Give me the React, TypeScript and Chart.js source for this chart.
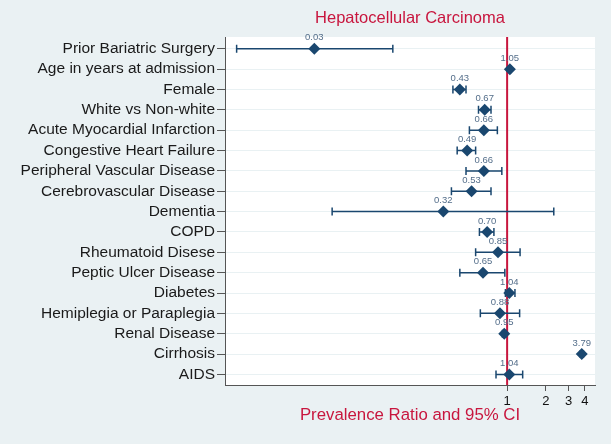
import { useEffect, useRef } from "react";
import { Chart, registerables } from "chart.js";

Chart.register(...registerables);

const categories = [
  "Prior Bariatric Surgery",
  "Age in years at admission",
  "Female",
  "White vs Non-white",
  "Acute Myocardial Infarction",
  "Congestive Heart Failure",
  "Peripheral Vascular Disease",
  "Cerebrovascular Disease",
  "Dementia",
  "COPD",
  "Rheumatoid Disese",
  "Peptic Ulcer Disease",
  "Diabetes",
  "Hemiplegia or Paraplegia",
  "Renal Disease",
  "Cirrhosis",
  "AIDS",
];
const ratios = [0.032, 1.05, 0.43, 0.67, 0.66, 0.49, 0.66, 0.53, 0.32, 0.7, 0.85, 0.65, 1.04, 0.88, 0.95, 3.79, 1.04];
const ciLow = [0.008, 1.03, 0.38, 0.6, 0.51, 0.41, 0.48, 0.37, 0.044, 0.61, 0.57, 0.43, 0.97, 0.62, 0.92, 3.7, 0.82];
const ciHigh = [0.13, 1.07, 0.48, 0.75, 0.84, 0.57, 0.91, 0.75, 2.3, 0.79, 1.26, 0.96, 1.15, 1.25, 0.98, 3.9, 1.32];
const xTicks = [1, 2, 3, 4];
const refValue = 1;
const titleText = "Hepatocellular Carcinoma";
const xTitleText = "Prevalence Ratio and 95% CI";

const FONT = "'Liberation Sans', Arial, sans-serif";
const RED = "#c8163e";
const NAVY = "#1a476f";

export default function App() {
  const ref = useRef<HTMLCanvasElement>(null);

  useEffect(() => {
    if (!ref.current) return;
    Chart.defaults.font.family = FONT;

    const bgPlugin = {
      id: "bgPlugin",
      beforeDraw(chart: any) {
        const { ctx, chartArea: a } = chart;
        ctx.save();
        ctx.fillStyle = "#eaf1f3";
        ctx.fillRect(0, 0, chart.width, chart.height);
        ctx.fillStyle = "#ffffff";
        ctx.fillRect(a.left, a.top, a.right - a.left, a.bottom - a.top);
        ctx.restore();
      },
    };

    const errPlugin = {
      id: "errPlugin",
      beforeDatasetsDraw(chart: any) {
        const { ctx, chartArea: a } = chart;
        const xs = chart.scales.x;
        const ys = chart.scales.y;
        ctx.save();
        // reference line
        const rx = xs.getPixelForValue(refValue);
        ctx.strokeStyle = RED;
        ctx.lineWidth = 2;
        ctx.beginPath();
        ctx.moveTo(rx, a.top);
        ctx.lineTo(rx, a.bottom);
        ctx.stroke();
        // error bars
        ctx.strokeStyle = NAVY;
        ctx.lineWidth = 1.5;
        categories.forEach((_, i) => {
          const py = ys.getPixelForValue(i);
          const x1 = xs.getPixelForValue(ciLow[i]);
          const x2 = xs.getPixelForValue(ciHigh[i]);
          ctx.beginPath();
          ctx.moveTo(x1, py);
          ctx.lineTo(x2, py);
          ctx.moveTo(x1, py - 4);
          ctx.lineTo(x1, py + 4);
          ctx.moveTo(x2, py - 4);
          ctx.lineTo(x2, py + 4);
          ctx.stroke();
        });
        ctx.restore();
      },
      afterDatasetsDraw(chart: any) {
        const { ctx } = chart;
        const xs = chart.scales.x;
        const ys = chart.scales.y;
        ctx.save();
        ctx.font = `9.5px ${FONT}`;
        ctx.fillStyle = "#546e8a";
        ctx.textAlign = "center";
        ctx.textBaseline = "middle";
        ratios.forEach((v, i) => {
          ctx.fillText(v.toFixed(2), xs.getPixelForValue(v), ys.getPixelForValue(i) - 11);
        });
        ctx.restore();
      },
    };

    const chart = new Chart(ref.current, {
      type: "scatter",
      data: {
        datasets: [
          {
            data: ratios.map((v, i) => ({ x: v, y: i })),
            pointStyle: "rectRot",
            pointRadius: 6,
            backgroundColor: NAVY,
            borderColor: NAVY,
            borderWidth: 0,
            showLine: false,
          },
        ],
      },
      options: {
        responsive: false,
        animation: false,
        events: [],
        layout: { padding: { left: 0, right: 16, top: 0, bottom: 0 } },
        plugins: {
          legend: { display: false },
          tooltip: { enabled: false },
          title: {
            display: true,
            text: titleText,
            color: RED,
            fullSize: false,
            font: { family: FONT, size: 16.5, weight: "normal", lineHeight: 1.2 },
            padding: { top: 8.4, bottom: 8.8 },
          },
        },
        scales: {
          x: {
            type: "logarithmic",
            min: 0.0065,
            max: 4.8,
            afterBuildTicks: (s: any) => {
              s.ticks = xTicks.map((v) => ({ value: v }));
            },
            afterFit: (s: any) => {
              s.height = 59;
            },
            ticks: {
              autoSkip: false,
              maxRotation: 0,
              callback: (v: any) => String(v),
              color: "#111111",
              font: { family: FONT, size: 13 },
              padding: 3,
            },
            grid: { drawOnChartArea: false, tickLength: 6, tickColor: "#555555" },
            border: { color: "#555555", width: 1 },
            title: {
              display: true,
              text: xTitleText,
              color: RED,
              font: { family: FONT, size: 16.8, lineHeight: 1.2 },
              padding: { top: 0, bottom: 18.4 },
            },
          },
          y: {
            type: "linear",
            reverse: true,
            min: -0.58,
            max: 16.52,
            afterBuildTicks: (s: any) => {
              s.ticks = categories.map((_, i) => ({ value: i }));
            },
            afterFit: (s: any) => {
              s.width = 225;
            },
            ticks: {
              autoSkip: false,
              callback: (v: any) => categories[v],
              color: "#1a1a1a",
              font: { family: FONT, size: 15.5 },
              padding: 2,
            },
            grid: { color: "#e9f1f3", lineWidth: 1, tickLength: 8, tickColor: "#555555" },
            border: { color: "#555555", width: 1 },
          },
        },
      } as any,
      plugins: [bgPlugin, errPlugin],
    });

    return () => chart.destroy();
  }, []);

  return (
    <div style={{ position: "absolute", left: 0, top: 0, width: 611, height: 444 }}>
      <canvas ref={ref} width={611} height={444} />
    </div>
  );
}
